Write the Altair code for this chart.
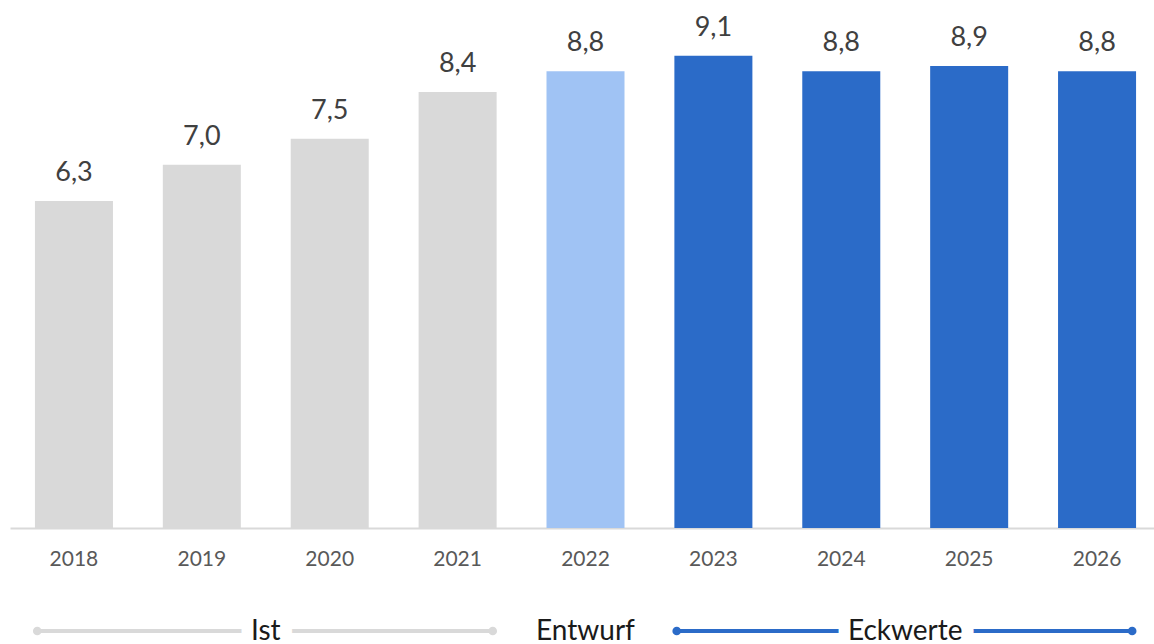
import altair as alt
import pandas as pd

# ---- data ----
years = ["2018", "2019", "2020", "2021", "2022", "2023", "2024", "2025", "2026"]
values = [6.3, 7.0, 7.5, 8.4, 8.8, 9.1, 8.8, 8.9, 8.8]
groups = ["Ist", "Ist", "Ist", "Ist", "Entwurf", "Eckwerte", "Eckwerte", "Eckwerte", "Eckwerte"]

group_names = ["Ist", "Entwurf", "Eckwerte"]
group_colors = ["#D9D9D9", "#A0C3F4", "#2B6BC8"]

# legend bands drawn under the axis
line_groups = ["Ist", "Eckwerte"]
line_start = ["2018", "2023"]
line_end = ["2021", "2026"]
line_label_year = ["2019", "2024"]   # label sits in the gap after this year
mid_group = ["Entwurf"]
mid_year = ["2022"]

FONT = "Lato"
PAD = 0.39
RANGE_W = 1151
STEP = RANGE_W / len(years)
GAP_DX = STEP * PAD / 2  # from bar end to middle of the gap

df = pd.DataFrame({
    "year": years,
    "value": values,
    "group": groups,
    "label": [f"{v:.1f}".replace(".", ",") for v in values],
})
leg = pd.DataFrame({"group": line_groups, "start": line_start, "end": line_end, "mid": line_label_year})
leg_mid = pd.DataFrame({"group": mid_group, "mid": mid_year})

xscale = alt.Scale(domain=years, paddingInner=PAD, paddingOuter=PAD / 2, range=[0, RANGE_W])
cscale = alt.Scale(domain=group_names, range=group_colors)
color = alt.Color("group:N", scale=cscale, legend=None)
xaxis = alt.Axis(title=None, labelAngle=0, ticks=False, labelPadding=20,
                 labelFontSize=21, labelColor="#595959", labelFont=FONT,
                 domainColor="#D9D9D9", domainWidth=2, grid=False)

LEG_Y = 622

bars = alt.Chart(df).mark_bar().encode(
    x=alt.X("year:N", scale=xscale, sort=years, axis=xaxis, title=None),
    y=alt.Y("value:Q", scale=alt.Scale(domain=[0, 10], nice=False), axis=None),
    color=color,
)

labels = alt.Chart(df).mark_text(
    font=FONT, fontSize=27, color="#404040", baseline="alphabetic", dy=-20
).encode(
    x=alt.X("year:N", scale=xscale, sort=years, title=None),
    y=alt.Y("value:Q"),
    text="label:N",
)

lines = alt.Chart(leg).mark_rule(strokeWidth=4).encode(
    x=alt.X("start:N", scale=xscale, title=None, bandPosition=0.03),
    x2=alt.X2("end:N", bandPosition=0.95),
    y=alt.value(LEG_Y),
    color=color,
)

dots_start = alt.Chart(leg).mark_circle(size=75, opacity=1).encode(
    x=alt.X("start:N", scale=xscale, title=None, bandPosition=0.03),
    y=alt.value(LEG_Y),
    color=color,
)
dots_end = alt.Chart(leg).mark_circle(size=75, opacity=1).encode(
    x=alt.X("end:N", scale=xscale, title=None, bandPosition=0.95),
    y=alt.value(LEG_Y),
    color=color,
)

halo = alt.Chart(leg).mark_text(
    font=FONT, fontSize=28, fill="white", stroke="white", strokeWidth=24,
    baseline="alphabetic", dy=9, dx=GAP_DX
).encode(
    x=alt.X("mid:N", scale=xscale, title=None, bandPosition=1),
    y=alt.value(LEG_Y),
    text="group:N",
)

leg_text = alt.Chart(leg).mark_text(
    font=FONT, fontSize=28, color="#1A1A1A", baseline="alphabetic", dy=9, dx=GAP_DX
).encode(
    x=alt.X("mid:N", scale=xscale, title=None, bandPosition=1),
    y=alt.value(LEG_Y),
    text="group:N",
)

mid_text = alt.Chart(leg_mid).mark_text(
    font=FONT, fontSize=28, color="#1A1A1A", baseline="alphabetic", dy=9
).encode(
    x=alt.X("mid:N", scale=xscale, title=None, bandPosition=0.5),
    y=alt.value(LEG_Y),
    text="group:N",
)

chart = alt.layer(
    bars, labels, lines, dots_start, dots_end, halo, leg_text, mid_text
).properties(
    width=1144,
    height=519,
    background="white",
    autosize=alt.AutoSizeParams(type="none"),
    padding={"left": 10, "top": 9, "right": 0, "bottom": 116},
).configure_view(stroke=None)

chart.save("out.html", embed_options={"renderer": "svg", "actions": False})
